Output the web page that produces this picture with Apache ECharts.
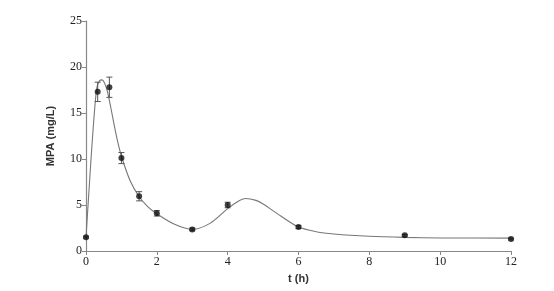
<!DOCTYPE html>
<html><head><meta charset="utf-8">
<script src="https://cdn.jsdelivr.net/npm/echarts@6/dist/echarts.min.js"></script>
<style>html,body{margin:0;padding:0;background:#fff}#c{width:554px;height:291px}</style>
</head><body><div id="c"></div>
<script>
// observed points
const obsTime = [0, 0.33, 0.66, 1, 1.5, 2, 3, 4, 6, 9, 12];
const obsMean = [1.5, 17.3, 17.8, 10.1, 5.95, 4.1, 2.35, 5.0, 2.6, 1.7, 1.3];
const obsErr  = [0.1, 1.05, 1.1, 0.6, 0.5, 0.3, 0.15, 0.3, 0.15, 0.1, 0.1];
// fitted curve
const fitTime = [0, 0.1, 0.2, 0.3, 0.38, 0.45, 0.52, 0.6, 0.7, 0.8, 0.9, 1, 1.25, 1.5, 1.75, 2, 2.5, 3, 3.5, 4, 4.3, 4.5, 4.8, 5, 5.5, 6, 6.5, 7, 8, 9, 10, 12];
const fitConc = [1.5, 7.5, 13.2, 17.6, 18.5, 18.6, 18.3, 17.4, 15.6, 13.6, 11.8, 10.3, 7.6, 5.9, 4.8, 4.05, 2.9, 2.35, 3.0, 4.6, 5.4, 5.7, 5.5, 5.1, 3.8, 2.6, 2.1, 1.85, 1.6, 1.48, 1.42, 1.4];
const xTicks = [0, 2, 4, 6, 8, 10, 12];
const yTicks = [0, 5, 10, 15, 20, 25];

const chart = echarts.init(document.getElementById('c'));
const axisCol = '#888';
chart.setOption({
  animation: false,
  grid: {left: 86, right: 43, top: 21, bottom: 40},
  xAxis: {
    type: 'value', min: 0, max: 12, interval: 2,
    name: 't (h)', nameLocation: 'middle', nameGap: 22,
    nameTextStyle: {fontFamily: 'Liberation Sans', fontWeight: 'bold', fontSize: 11, color: '#333'},
    axisLine: {lineStyle: {color: axisCol, width: 1.2}},
    axisTick: {length: 4, lineStyle: {color: axisCol}},
    axisLabel: {fontFamily: 'Liberation Serif', fontSize: 12, color: '#222', margin: 5},
    splitLine: {show: false}
  },
  yAxis: {
    type: 'value', min: 0, max: 25, interval: 5,
    name: 'MPA (mg/L)', nameLocation: 'middle', nameGap: 30, nameRotate: 90,
    nameTextStyle: {fontFamily: 'Liberation Sans', fontWeight: 'bold', fontSize: 11, color: '#333'},
    axisLine: {show: true, lineStyle: {color: axisCol, width: 1.2}},
    axisTick: {show: true, length: 4, lineStyle: {color: axisCol}},
    axisLabel: {fontFamily: 'Liberation Serif', fontSize: 12, color: '#222', margin: 4},
    splitLine: {show: false}
  },
  series: [
    {
      type: 'line', data: fitTime.map((t, i) => [t, fitConc[i]]),
      smooth: 0.3, symbol: 'none',
      lineStyle: {color: '#777', width: 1.1}, z: 2
    },
    {
      type: 'custom', z: 3,
      data: obsTime.map((t, i) => [t, obsMean[i] - obsErr[i], obsMean[i] + obsErr[i]]),
      renderItem: function (params, api) {
        const lo = api.coord([api.value(0), api.value(1)]);
        const hi = api.coord([api.value(0), api.value(2)]);
        const w = 3;
        const st = {stroke: '#555', lineWidth: 1};
        return {type: 'group', children: [
          {type: 'line', shape: {x1: lo[0], y1: lo[1], x2: hi[0], y2: hi[1]}, style: st},
          {type: 'line', shape: {x1: lo[0] - w, y1: lo[1], x2: lo[0] + w, y2: lo[1]}, style: st},
          {type: 'line', shape: {x1: hi[0] - w, y1: hi[1], x2: hi[0] + w, y2: hi[1]}, style: st}
        ]};
      }
    },
    {
      type: 'scatter', z: 4,
      data: obsTime.map((t, i) => [t, obsMean[i]]),
      symbol: 'circle', symbolSize: 6,
      itemStyle: {color: '#111'}
    }
  ]
});
</script></body></html>
